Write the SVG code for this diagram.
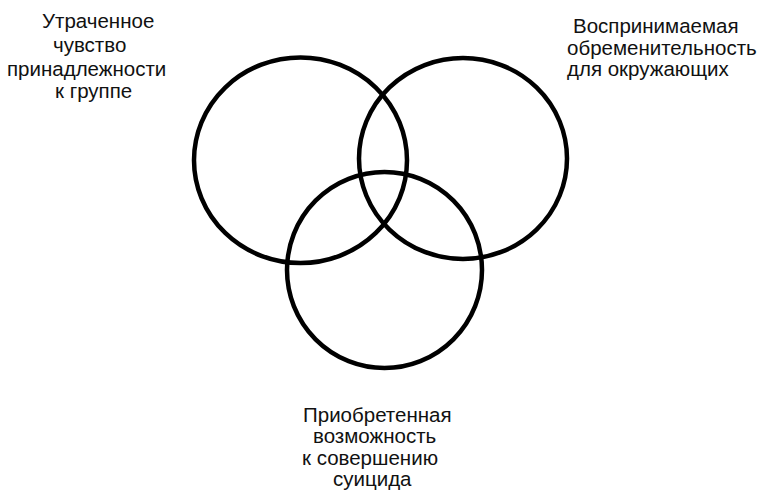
<svg xmlns="http://www.w3.org/2000/svg" width="764" height="494" viewBox="0 0 764 494">
<style>
.c{fill:none;stroke:#000;stroke-width:4.5}
.t{font-family:"Liberation Sans",Arial,sans-serif;font-size:20.5px;fill:#111}
</style>
<rect width="764" height="494" fill="#fff"/>
<g id="belonging">
<ellipse class="c" cx="300.5" cy="160.2" rx="106.5" ry="102.8"/>
<text class="t"><tspan x="42" y="28">Утраченное</tspan><tspan x="53" y="52">чувство</tspan><tspan x="7" y="76">принадлежности</tspan><tspan x="55" y="98">к группе</tspan></text>
</g>
<g id="burden">
<ellipse class="c" cx="463" cy="158.5" rx="104" ry="100.5"/>
<text class="t"><tspan x="573" y="33">Воспринимаемая</tspan><tspan x="567" y="55">обременительность</tspan><tspan x="567" y="76">для окружающих</tspan></text>
</g>
<g id="capability">
<ellipse class="c" cx="384.5" cy="270" rx="97.5" ry="98"/>
<text class="t"><tspan x="303" y="422">Приобретенная</tspan><tspan x="313" y="443">возможность</tspan><tspan x="302" y="465">к совершению</tspan><tspan x="333" y="486">суицида</tspan></text>
</g>
<g id="connectors"/>
</svg>
